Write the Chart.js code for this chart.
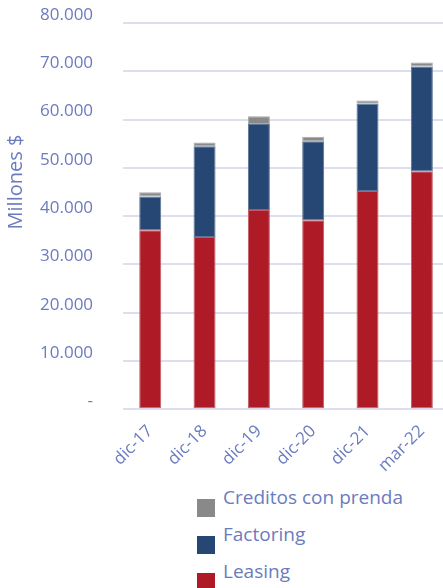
<!DOCTYPE html>
<html>
<head>
<meta charset="utf-8">
<script src="https://cdn.jsdelivr.net/npm/chart.js@4/dist/chart.umd.min.js"></script>
<style>
  html, body { margin: 0; padding: 0; background: #fff; overflow: hidden; }
  body { width: 443px; height: 588px; position: relative; }
  #wrap { position: absolute; left: 0; top: 0; width: 450px; height: 480px; }
  #legend { position: absolute; left: 197px; top: 484px; font-family: 'Open Sans', sans-serif;
            font-size: 19px; color: #6b7bbf; }
  #legend div { position: relative; height: 37px; padding-left: 26px; line-height: 26px; white-space: nowrap; }
  #legend span { position: absolute; left: 0; top: 15px; width: 18px; height: 18px; }
</style>
</head>
<body>
<div id="wrap"><canvas id="c"></canvas></div>
<div id="legend"></div>
<script>
// ── Data ───────────────────────────────────────────────────────
const labels     = ['dic-17', 'dic-18', 'dic-19', 'dic-20', 'dic-21', 'mar-22'];
const leasing    = [37050, 35650, 41250, 39150, 45200, 49300];
const factoring  = [7000, 18800, 17850, 16350, 18050, 21700];
const creditos   = [900, 800, 1600, 950, 700, 800];

const TEXT = '#6b7bbf';
const GRID = '#dcdff0';

// y title sits a bit above the plot centre, draw it by hand
const yTitle = {
    id: 'yTitle',
    afterDraw(chart) {
        const ctx = chart.ctx;
        ctx.save();
        ctx.translate(16, 182);
        ctx.rotate(-Math.PI / 2);
        ctx.fillStyle = TEXT;
        ctx.font = '20px "Open Sans", sans-serif';
        ctx.textAlign = 'center';
        ctx.textBaseline = 'middle';
        ctx.fillText('Millones $', 0, 0);
        ctx.restore();
    },
};

const ds = (label, data, color, edge) => ({
    label, data,
    backgroundColor: color,
    borderColor: edge,
    borderWidth: 1,
    borderSkipped: false,
    barPercentage: 0.405,
    categoryPercentage: 1,
});

const chart = new Chart(document.getElementById('c'), {
    type: 'bar',
    data: {
        labels,
        datasets: [
            ds('Leasing', leasing, '#ae1a25', '#c55a63'),
            ds('Factoring', factoring, '#264773', '#5a7396'),
            ds('Creditos con prenda', creditos, '#898989', '#a9a9a9'),
        ],
    },
    options: {
        responsive: true,
        maintainAspectRatio: false,
        animation: false,
        layout: { padding: { left: 10, right: 1, top: 23, bottom: 0 } },
        plugins: {
            legend: { display: false },
            tooltip: { enabled: false },
        },
        scales: {
            x: {
                stacked: true,
                grid: { display: false },
                border: { display: false },
                ticks: {
                    color: TEXT,
                    font: { family: 'Open Sans', size: 17 },
                    minRotation: 45, maxRotation: 45,
                    padding: 4,
                },
            },
            y: {
                stacked: true,
                min: 0, max: 80000,
                grid: { color: GRID, lineWidth: 2, drawTicks: false },
                border: { display: false },
                ticks: {
                    stepSize: 10000,
                    color: TEXT,
                    font: { family: 'Open Sans', size: 17 },
                    padding: 30,
                    labelOffset: -8,
                    callback: v => v === 0 ? '-' : v.toLocaleString('de-DE'),
                },
                // tick padding would otherwise also push the top down
                afterFit: s => { s.paddingTop = 0; s.paddingBottom = 0; },
            },
        },
    },
    plugins: [yTitle],
});

// legend, top series first
const legend = document.getElementById('legend');
chart.data.datasets.slice().reverse().forEach(d => {
    const row = document.createElement('div');
    row.innerHTML = `<span style="background:${d.backgroundColor}"></span>${d.label}`;
    legend.appendChild(row);
});
</script>
</body>
</html>
